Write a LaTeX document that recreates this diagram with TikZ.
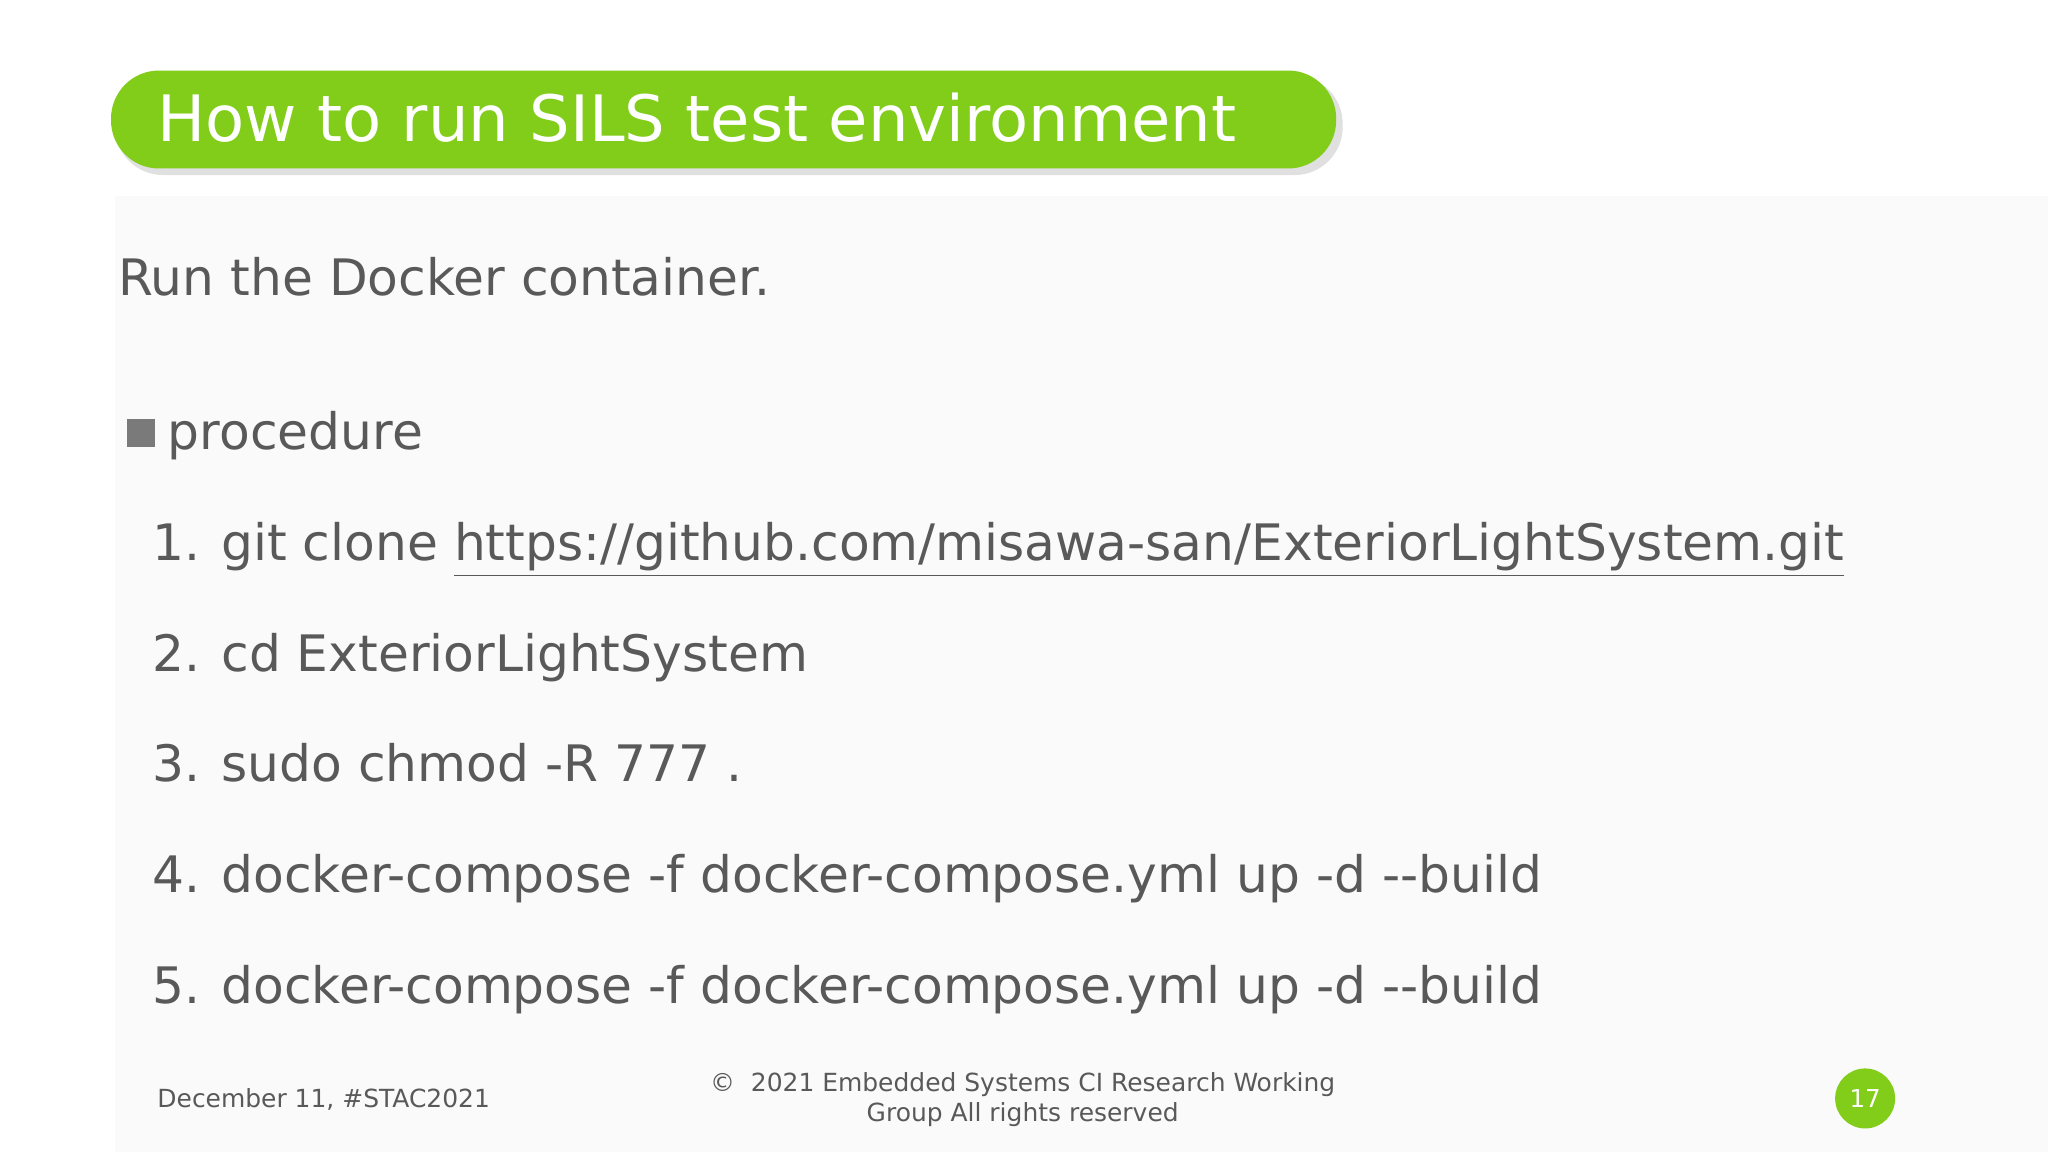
\documentclass[tikz,border=0pt]{standalone}
\usepackage{fontspec}
\setmainfont{DejaVu Sans}
\definecolor{gr}{HTML}{82CC1A}
\definecolor{tx}{HTML}{595959}
\begin{document}
\begin{tikzpicture}[x=0.013061cm,y=-0.013061cm,
  body/.style={anchor=base west,inner sep=0,text=tx,font=\fontsize{14.3}{17}\selectfont},
  foot/.style={text=tx,font=\fontsize{7.1}{8.6}\selectfont,inner sep=0}]
\useasboundingbox (0,0) rectangle (1568,882);
\fill[white] (0,0) rectangle (1568,882);
\fill[gray!4] (88,150) rectangle (1568,882);
\fill[black!12,rounded corners=0.48cm] (88,58) rectangle (1028,134);
\fill[gr,rounded corners=0.48cm] (85,54) rectangle (1023,129);
\node[anchor=base west,inner sep=0,text=white,font=\fontsize{18.2}{21}\selectfont] (title) at (120,108) {How to run SILS test environment};
\node[body] (run) at (90,226) {Run the Docker container.};
\fill[tx!80] (97,321) rectangle (119,342);
\node[body] (proc) at (128,344) {procedure};
\node[body] (i1) at (116,429) {1. git clone \underline{https://github.com/misawa-san/ExteriorLightSystem.git}};
\node[body] (i2) at (116,514) {2. cd ExteriorLightSystem};
\node[body] (i3) at (116,598) {3. sudo chmod -R 777 .};
\node[body] (i4) at (116,683) {4. docker-compose -f docker-compose.yml up -d -{}-build};
\node[body] (i5) at (116,768) {5. docker-compose -f docker-compose.yml up -d -{}-build};
\node[foot,anchor=west] (date) at (120,842) {December 11, \#STAC2021};
\node[foot,align=center] (copy) at (783,842) {©\ \ 2021 Embedded Systems CI Research Working\\Group All rights reserved};
\node[circle,fill=gr,minimum size=0.6cm,inner sep=0,text=white,font=\fontsize{7}{8}\selectfont] (pg) at (1428,841) {17};
\end{tikzpicture}
\end{document}
